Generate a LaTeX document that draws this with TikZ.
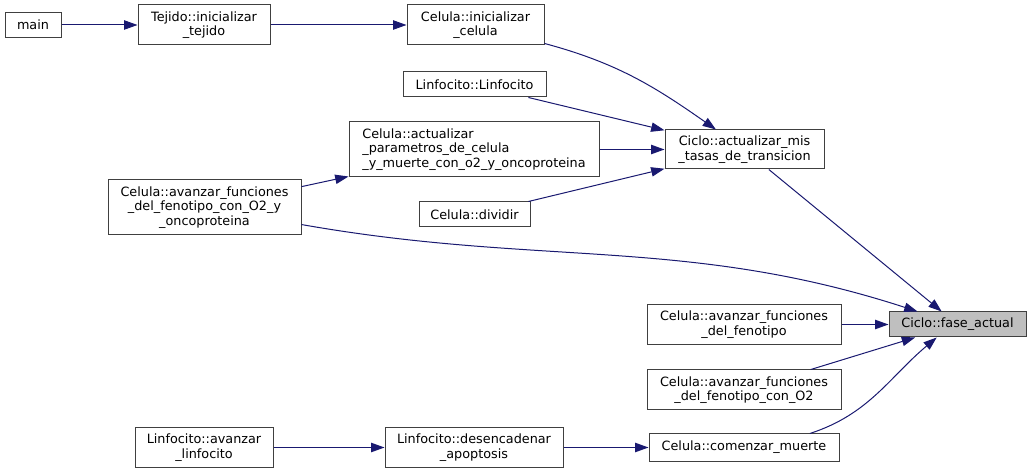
\documentclass[tikz,border=0pt]{standalone}
\usepackage{fontspec}
\setmainfont{DejaVu Sans}
\usepackage{xcolor}
\usepackage{tikz}
\usetikzlibrary{arrows.meta}
\definecolor{edgeblue}{RGB}{25,25,112}
\definecolor{boxgray}{RGB}{191,191,191}

\begin{document}
\begin{tikzpicture}[x=0.75pt,y=0.75pt,
  fn/.style={draw=black!75,line width=0.75pt,fill=white,inner sep=1pt,align=center,font=\fontsize{9.6}{10.9}\selectfont},
  bw/.style={minimum width=#1*0.75pt},
  bh/.style={minimum height=#1*0.75pt},
  call/.style={draw=edgeblue,line width=0.75pt,-{Triangle[length=10pt,width=7pt]}}]
\useasboundingbox (0,0) rectangle (1032,475);

\node[fn,bw=56,bh=25] (main) at (33,450) {main};
\node[fn,bw=132,bh=40] (tejido) at (204,450) {Tejido::inicializar\\\_tejido};
\node[fn,bw=137,bh=40] (cinic) at (475.5,450) {Celula::inicializar\\\_celula};
\node[fn,bw=143,bh=25] (llinf) at (474.5,390.5) {Linfocito::Linfocito};
\node[fn,bw=250,bh=55,align=left] (cparam) at (474,325.5) {Celula::actualizar\\\_parametros\_de\_celula\\\_y\_muerte\_con\_o2\_y\_oncoproteina};
\node[fn,bw=193,bh=55] (conco) at (204.5,267.5) {Celula::avanzar\_funciones\\\_del\_fenotipo\_con\_O2\_y\\\_oncoproteina};
\node[fn,bw=111,bh=25] (cdiv) at (474.5,260.5) {Celula::dividir};
\node[fn,bw=159,bh=39] (ctasas) at (744.5,325.5) {Ciclo::actualizar\_mis\\\_tasas\_de\_transicion};
\node[fn,bw=137,bh=25,fill=boxgray] (fase) at (957.5,150.5) {Ciclo::fase\_actual};
\node[fn,bw=194,bh=40] (cfeno) at (744,150.5) {Celula::avanzar\_funciones\\\_del\_fenotipo};
\node[fn,bw=194,bh=40] (cfo2) at (744,85) {Celula::avanzar\_funciones\\\_del\_fenotipo\_con\_O2};
\node[fn,bw=190,bh=27] (cmuerte) at (744,27.5) {Celula::comenzar\_muerte};
\node[fn,bw=138,bh=40] (lavanz) at (204,27.5) {Linfocito::avanzar\\\_linfocito};
\node[fn,bw=178,bh=40] (ldes) at (474,27.5) {Linfocito::desencadenar\\\_apoptosis};

\draw[call] (main) -- (tejido);
\draw[call] (tejido) -- (cinic);
\draw[call] (cinic) to[out=-15,in=145] (ctasas);
\draw[call] (llinf) -- (ctasas);
\draw[call] (cparam) -- (ctasas);
\draw[call] (cdiv) -- (ctasas);
\draw[call] (conco) -- (cparam);
\draw[call] (conco) to[out=-10,in=162] (fase);
\draw[call] (ctasas) -- (fase);
\draw[call] (cfeno) -- (fase);
\draw[call] (cfo2) -- (fase);
\draw[call] (cmuerte.12) to[out=18,in=-140] (fase.-148);
\draw[call] (lavanz) -- (ldes);
\draw[call] (ldes) -- (cmuerte);
\end{tikzpicture}
\end{document}
